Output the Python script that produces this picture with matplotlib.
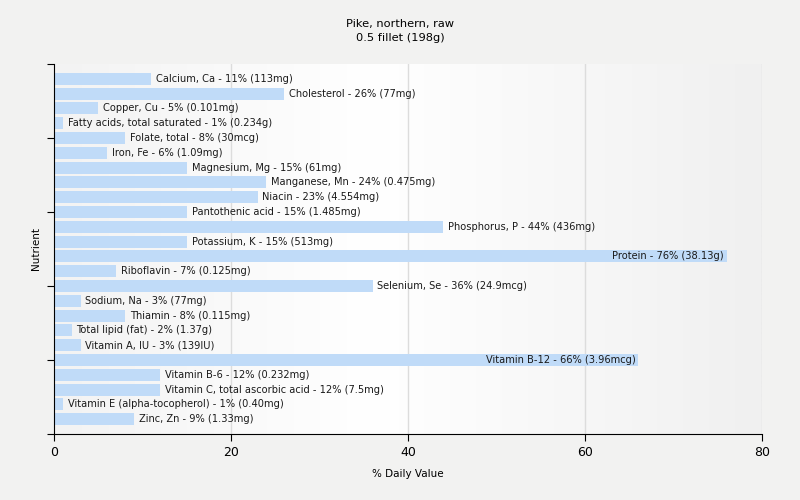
import numpy as np
import matplotlib
matplotlib.use("Agg")
import matplotlib.pyplot as plt
from matplotlib.colors import LinearSegmentedColormap

title = "Pike, northern, raw\n0.5 fillet (198g)"
nutrients = ["Calcium, Ca", "Cholesterol", "Copper, Cu", "Fatty acids, total saturated",
             "Folate, total", "Iron, Fe", "Magnesium, Mg", "Manganese, Mn", "Niacin",
             "Pantothenic acid", "Phosphorus, P", "Potassium, K", "Protein", "Riboflavin",
             "Selenium, Se", "Sodium, Na", "Thiamin", "Total lipid (fat)", "Vitamin A, IU",
             "Vitamin B-12", "Vitamin B-6", "Vitamin C, total ascorbic acid",
             "Vitamin E (alpha-tocopherol)", "Zinc, Zn"]
percents = [11, 26, 5, 1, 8, 6, 15, 24, 23, 15, 44, 15, 76, 7, 36, 3, 8, 2, 3, 66, 12, 12, 1, 9]
amounts = ["113mg", "77mg", "0.101mg", "0.234g", "30mcg", "1.09mg", "61mg", "0.475mg",
           "4.554mg", "1.485mg", "436mg", "513mg", "38.13g", "0.125mg", "24.9mcg", "77mg",
           "0.115mg", "1.37g", "139IU", "3.96mcg", "0.232mg", "7.5mg", "0.40mg", "1.33mg"]
xticks = [0, 20, 40, 60, 80]

fig = plt.figure(figsize=(8, 5), dpi=100, facecolor="#f2f2f1")
ax = fig.add_axes([54/800, 1-434/500, (762-54)/800, (434-64)/500])
ax.set_facecolor("#f2f2f1")

# background gradient
cmap = LinearSegmentedColormap.from_list("bg", [(0, "#f3f3f3"), (0.45, "#ffffff"), (1, "#f0f0f0")])
grad = np.linspace(0, 1, 256).reshape(1, -1)
ax.imshow(grad, cmap=cmap, aspect="auto", extent=(0, 80, 24, -1), zorder=0)

y = np.arange(len(nutrients))
ax.barh(y, percents, height=0.8, color="#c0dbf8", zorder=2)

for yi, p, n, a in zip(y, percents, nutrients, amounts):
    label = f"{n} - {p}% ({a})"
    if p > 50:
        ax.annotate(label, (p, yi), xytext=(-2, 0), textcoords="offset points",
                    ha="right", va="center", fontsize=7.1, color="#1a1a1a", zorder=3)
    else:
        ax.annotate(label, (p, yi), xytext=(3.5, 0), textcoords="offset points",
                    ha="left", va="center", fontsize=7.1, color="#1a1a1a", zorder=3)

ax.set_xlim(0, 80)
ax.set_ylim(24, -1)
ax.set_xticks(xticks)
ax.set_yticks([-1, 4, 9, 14, 19, 24])
ax.set_yticklabels([])
ax.tick_params(axis="x", labelsize=9, length=5, color="black")
ax.tick_params(axis="y", length=5, color="black")
for xt in xticks[1:]:
    ax.axvline(xt, color="#dcdcdc", lw=1, zorder=1)
ax.spines["top"].set_visible(False)
ax.spines["right"].set_visible(False)
ax.set_xlabel("% Daily Value", fontsize=7.5, labelpad=7)
ax.set_ylabel("Nutrient", fontsize=7.5)
ax.yaxis.set_label_coords((41 - 54) / 708, 0.5)
fig.text(0.5, 1-31/500, title, ha="center", va="center", fontsize=8.2, linespacing=1.6)

fig.savefig("out.png", dpi=100, facecolor=fig.get_facecolor())
